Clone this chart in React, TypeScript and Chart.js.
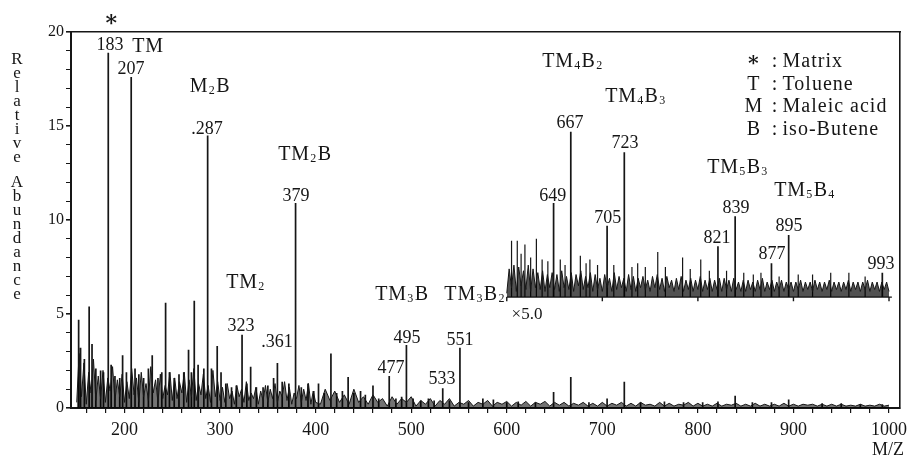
import React, { useEffect, useRef } from 'react';
import { Chart, registerables } from 'chart.js';

Chart.register(...registerables);

const FONT = '"Liberation Serif", "DejaVu Serif", serif';
const INK = '#161616';

// ---------- axis ----------
const xMin = 144;
const xMax = 1011.5;
const yMin = 0;
const yMax = 20;
const xTickLabels = [200, 300, 400, 500, 600, 700, 800, 900, 1000];
const xMinorStep = 20;
const yTickLabels = [0, 5, 10, 15, 20];
const yMinorStep = 1;

// ---------- main spectrum (m/z, relative abundance) ----------
const peakMz = [152, 154, 158, 163, 166, 170, 175, 178, 183, 186, 190, 195, 198, 202, 207, 211, 215, 220, 225, 229, 235, 239, 243, 247, 252, 257, 262, 267, 270, 273, 277, 283, 287, 291, 297, 301, 306, 312, 317, 323, 328, 332, 338, 345, 350, 356, 360, 365, 372, 379, 385, 392, 398, 403, 409, 416, 422, 428, 434, 440, 447, 452, 460, 466, 477, 484, 490, 495, 502, 510, 518, 524, 533, 540, 551, 560, 575, 586, 600, 612, 630, 649, 667, 686, 705, 723, 740, 765, 785, 805, 821, 839, 857, 877, 895, 930, 950, 970, 993];
const peakInt = [4.7, 3.2, 2.6, 5.4, 3.4, 2.1, 2.0, 1.9, 18.9, 2.3, 1.7, 1.6, 2.8, 1.9, 17.6, 2.1, 1.8, 1.6, 2.1, 2.8, 1.6, 1.9, 5.6, 1.9, 1.6, 1.8, 1.9, 3.1, 1.9, 5.7, 2.3, 2.1, 14.5, 2.1, 3.3, 1.9, 1.3, 1.1, 1.2, 3.9, 1.3, 2.2, 1.1, 1.1, 1.2, 1.6, 2.4, 1.4, 1.3, 10.9, 1.1, 1.3, 0.9, 1.3, 0.8, 2.9, 0.8, 0.9, 1.65, 0.8, 0.9, 0.7, 1.2, 0.5, 1.7, 0.5, 0.6, 3.35, 0.5, 0.4, 0.5, 0.4, 1.05, 0.4, 3.2, 0.3, 0.5, 0.45, 0.3, 0.35, 0.3, 0.85, 1.65, 0.3, 0.5, 1.4, 0.3, 0.35, 0.3, 0.3, 0.35, 0.65, 0.3, 0.3, 0.45, 0.25, 0.25, 0.2, 0.2];

// background trace, 150..400 every 2.5
const noiseLowStart = 150;
const noiseLowStep = 2.5;
const noiseLow = [
  0.3, 2.9, 0.6, 2.4, 0.2, 1.9, 0.8, 2.6, 0.4, 1.7, 0.5, 2.0, 0.3, 1.6, 0.9, 2.2, 0.4, 1.5, 0.6, 1.8, 0.3,
  1.4, 0.5, 2.1, 0.7, 1.6, 0.3, 1.9, 0.6, 1.3, 0.4, 2.2, 0.8, 1.5, 0.3, 1.8, 0.5, 1.2, 0.7, 1.9, 0.4,
  1.6, 0.5, 1.4, 0.8, 1.9, 0.3, 1.5, 0.6, 2.1, 0.4, 1.3, 0.7, 1.8, 0.5, 1.2, 0.3, 2.0, 0.6, 1.4, 0.4,
  1.1, 0.3, 1.3, 0.5, 0.9, 0.2, 1.2, 0.6, 1.0, 0.3, 1.4, 0.4, 0.8, 0.5, 1.1, 0.2, 0.9, 0.4, 1.2, 0.3,
  1.0, 0.5, 1.3, 0.3, 0.9, 0.6, 1.4, 0.4, 1.1, 0.2, 0.8, 0.5, 1.2, 0.3, 1.0, 0.4, 1.3, 0.2, 0.9, 0.3,
];
// background trace, 405..1000 every 5
const noiseHighStart = 405;
const noiseHighStep = 5;
const noiseHigh = [
  0.2, 1.0, 0.4, 0.9, 0.3, 0.7, 0.2, 1.0, 0.3, 0.6, 0.2,
  0.7, 0.3, 0.5, 0.1, 0.6, 0.2, 0.5, 0.3, 0.6, 0.1, 0.4, 0.2,
  0.5, 0.1, 0.4, 0.2, 0.5, 0.1, 0.3, 0.2, 0.4, 0.1, 0.3, 0.2,
  0.4, 0.1, 0.3, 0.2, 0.35, 0.1, 0.3, 0.15, 0.35, 0.1, 0.3, 0.2,
  0.35, 0.1, 0.3, 0.15, 0.3, 0.1, 0.25, 0.15, 0.3, 0.1, 0.25, 0.1,
  0.3, 0.1, 0.25, 0.15, 0.3, 0.1, 0.25, 0.1, 0.3, 0.15, 0.2, 0.1,
  0.3, 0.1, 0.25, 0.1, 0.2, 0.15, 0.3, 0.1, 0.25, 0.1, 0.2, 0.1,
  0.25, 0.1, 0.2, 0.15, 0.25, 0.1, 0.2, 0.1, 0.25, 0.1, 0.2, 0.1,
  0.2, 0.1, 0.25, 0.1, 0.2, 0.1, 0.2, 0.15, 0.2, 0.1, 0.2, 0.1,
  0.2, 0.1, 0.2, 0.1, 0.15, 0.1, 0.2, 0.1, 0.15, 0.1, 0.2, 0.1, 0.15,
];

// ---------- ×5.0 inset (drawn on an offset baseline) ----------
const insetBase = 5.9;
const insetStart = 600;
const insetEnd = 1003;
const insetTickMz = [600, 700, 800, 900, 1000];
const insetPeakMz = [649, 667, 705, 723, 821, 839, 877, 895, 993];
const insetPeakInt = [10.9, 14.7, 9.7, 13.6, 8.6, 10.2, 7.7, 9.2, 7.2];
const insetSpikeMz = [605, 611, 615, 619, 625, 631, 637, 643, 656, 661, 677, 683, 687, 695, 712, 731, 737, 745, 758, 766, 784, 792, 803, 812, 830, 848, 858, 866, 885, 905, 920, 939, 958, 975];
const insetSpikeInt = [8.9, 8.9, 8.2, 8.7, 8.0, 9.0, 7.9, 7.8, 7.9, 7.6, 8.1, 7.7, 7.9, 7.6, 7.6, 7.5, 7.7, 7.5, 8.3, 7.5, 8.0, 7.4, 7.9, 7.3, 7.3, 7.2, 7.1, 7.2, 7.0, 7.1, 7.1, 7.2, 7.2, 7.0];
const insetNoiseStep = 2.5;
const insetNoise = [
  0.2, 1.5, 0.5, 1.7, 0.3, 1.6, 0.6, 1.4, 0.4, 1.7, 0.3, 1.5, 0.5, 1.3, 0.4, 1.4, 0.3, 1.2, 0.5, 1.3,
  0.4, 1.2, 0.3, 1.4, 0.5, 1.1, 0.4, 1.3, 0.3, 1.2, 0.6, 1.4, 0.4, 1.1, 0.5, 1.3, 0.3, 1.2, 0.4, 1.0,
  0.3, 1.2, 0.5, 1.0, 0.3, 1.3, 0.4, 1.1, 0.5, 1.0, 0.3, 1.2, 0.4, 1.1, 0.3, 1.0, 0.5, 1.1, 0.4, 0.9,
  0.3, 1.1, 0.5, 1.2, 0.4, 1.0, 0.3, 1.1, 0.5, 0.9, 0.3, 1.0, 0.4, 1.1, 0.3, 0.9, 0.4, 1.0, 0.3, 0.9,
  0.4, 1.1, 0.3, 0.9, 0.4, 1.0, 0.3, 0.9, 0.4, 1.0, 0.3, 1.0, 0.4, 0.9, 0.3, 1.0, 0.4, 0.8, 0.3, 0.9,
  0.3, 0.9, 0.4, 0.8, 0.3, 0.9, 0.4, 1.0, 0.3, 0.8, 0.4, 0.9, 0.3, 0.8, 0.4, 0.9, 0.3, 0.8, 0.4, 0.8,
  0.3, 0.8, 0.4, 0.9, 0.3, 0.8, 0.4, 0.8, 0.3, 0.9, 0.4, 0.8, 0.3, 0.8, 0.4, 0.9, 0.3, 0.8, 0.4, 0.8,
  0.3, 0.8, 0.4, 0.9, 0.3, 0.8, 0.4, 0.8, 0.3, 0.8, 0.4, 0.9, 0.3, 0.8, 0.4, 0.8, 0.3, 0.8, 0.4, 0.8, 0.3,
];

// ---------- text annotations (placed in data coordinates: m/z, abundance) ----------
const labelTexts = ['183', '207', '.287', '379', '323', '.361', '495', '477', '533', '551', '667', '723', '649', '705', '839', '821', '895', '877', '993'];
const labelMz = [184.8, 206.8, 286.3, 379.5, 321.9, 359.6, 495.6, 478.9, 532.3, 551.1, 666.1, 723.8, 648.2, 705.8, 839.8, 819.9, 895.3, 877.5, 991.6];
const labelAt = [19.36, 18.09, 14.89, 11.33, 4.41, 3.56, 3.78, 2.18, 1.6, 3.67, 15.21, 14.15, 11.33, 10.16, 10.69, 9.1, 9.73, 8.24, 7.71];

const formulaTexts = ['TM', 'M_2B', 'TM_2B', 'TM_2', 'TM_3B', 'TM_3B_2', 'TM_4B_2', 'TM_4B_3', 'TM_5B_3', 'TM_5B_4'];
const formulaMz = [224.6, 289.5, 388.9, 327.1, 490.4, 566.8, 669.2, 735.1, 841.9, 912.0];
const formulaAt = [19.31, 17.18, 13.56, 6.76, 6.12, 6.12, 18.51, 16.65, 12.87, 11.65];

const matrixMark = '∗';
const matrixMarkMz = 185.9;
const matrixMarkAt = 20.64;
const insetNote = '×5.0';
const insetNoteMz = 621.2;
const insetNoteAt = 5.05;

const legendSymbols = ['∗', 'T', 'M', 'B'];
const legendNames = ['Matrix', 'Toluene', 'Maleic acid', 'iso-Butene'];
const legendAt = [18.51, 17.29, 16.12, 14.89];
const legendSymMz = 858.0;
const legendColonMz = 880.2;
const legendTextMz = 888.6;

const yTitle = 'Relative Abundance';
const xTitle = 'M/Z';

// ---------- helpers ----------
function sticks(mz: number[], top: number[], base: number) {
  const out: any[] = [];
  mz.forEach((m, i) => {
    out.push({ x: m, y: base }, { x: m, y: top[i] }, { x: m, y: null });
  });
  return out;
}

function drawRich(ctx: CanvasRenderingContext2D, text: string, cx: number, cy: number, size: number, align = 'center', spacing = 0) {
  const parts: { t: string; sub: boolean }[] = [];
  const re = /_(\d)/g;
  let last = 0;
  let m: RegExpExecArray | null;
  while ((m = re.exec(text))) {
    if (m.index > last) parts.push({ t: text.slice(last, m.index), sub: false });
    parts.push({ t: m[1], sub: true });
    last = m.index + 2;
  }
  if (last < text.length) parts.push({ t: text.slice(last), sub: false });
  const subSize = Math.round(size * 0.58);
  (ctx as any).letterSpacing = spacing + 'px';
  let w = 0;
  const widths = parts.map((p) => {
    ctx.font = `${p.sub ? subSize : size}px ${FONT}`;
    const ww = ctx.measureText(p.t).width + (p.sub ? 1 : 0);
    w += ww;
    return ww;
  });
  let x = align === 'center' ? cx - w / 2 : align === 'left' ? cx : cx - w;
  const base = cy + size * 0.33;
  ctx.textAlign = 'left';
  ctx.textBaseline = 'alphabetic';
  parts.forEach((p, i) => {
    ctx.font = `${p.sub ? subSize : size}px ${FONT}`;
    ctx.fillText(p.t, p.sub ? x + 0.5 : x, p.sub ? base + size * 0.1 : base);
    x += widths[i];
  });
  (ctx as any).letterSpacing = '0px';
}

const textPlugin = {
  id: 'spectrumText',
  afterDraw(chart: any) {
    const { ctx } = chart;
    const xs = chart.scales.x;
    const ys = chart.scales.y;
    const px = (v: number) => xs.getPixelForValue(v);
    const py = (v: number) => ys.getPixelForValue(v);
    ctx.save();
    ctx.fillStyle = INK;
    labelTexts.forEach((t, i) => drawRich(ctx, t, px(labelMz[i]), py(labelAt[i]), 18));
    formulaTexts.forEach((t, i) => drawRich(ctx, t, px(formulaMz[i]), py(formulaAt[i]), 20, 'center', 0.8));
    ctx.font = `bold 22px ${FONT}`;
    ctx.textAlign = 'center';
    ctx.textBaseline = 'middle';
    ctx.fillText(matrixMark, px(matrixMarkMz), py(matrixMarkAt));
    drawRich(ctx, insetNote, px(insetNoteMz), py(insetNoteAt), 17);
    legendSymbols.forEach((s, i) => {
      const yy = py(legendAt[i]);
      if (s === '∗') {
        ctx.font = `bold 20px ${FONT}`;
        ctx.textAlign = 'center';
        ctx.textBaseline = 'middle';
        ctx.fillText(s, px(legendSymMz), yy + 1);
      } else {
        drawRich(ctx, s, px(legendSymMz), yy, 20);
      }
      drawRich(ctx, ':', px(legendColonMz), yy, 20);
      drawRich(ctx, legendNames[i], px(legendTextMz), yy, 20, 'left', 1);
    });
    // stacked y title
    ctx.font = `17px ${FONT}`;
    ctx.textAlign = 'center';
    ctx.textBaseline = 'middle';
    let yy = 60;
    for (const ch of yTitle) {
      if (ch === ' ') {
        yy += 11;
        continue;
      }
      ctx.fillText(ch, 17, yy);
      yy += 14;
    }
    // x title
    drawRich(ctx, xTitle, xs.right - 12, ys.bottom + 41, 18);
    ctx.restore();
  },
};

function buildConfig(): any {
  const noisePts: any[] = [];
  noiseLow.forEach((v, i) => noisePts.push({ x: noiseLowStart + i * noiseLowStep, y: v }));
  noiseHigh.forEach((v, i) => noisePts.push({ x: noiseHighStart + i * noiseHighStep, y: v }));
  const insetPts = insetNoise.map((v, i) => ({ x: insetStart + i * insetNoiseStep, y: insetBase + v }));
  const insetAxis: any[] = [{ x: insetStart, y: insetBase }, { x: insetEnd, y: insetBase }, { x: insetEnd, y: null }];
  insetTickMz.forEach((m) => insetAxis.push({ x: m, y: insetBase }, { x: m, y: insetBase - 0.22 }, { x: m, y: null }));

  const lineDs = (data: any[], width: number, extra: any = {}) => ({
    data,
    borderColor: INK,
    borderWidth: width,
    pointRadius: 0,
    tension: 0,
    spanGaps: false,
    fill: false,
    ...extra,
  });

  const xMinorTicks: number[] = [];
  for (let v = 160; v <= 1000; v += xMinorStep) xMinorTicks.push(v);
  const yMinorTicks: number[] = [];
  for (let v = yMin; v <= yMax; v += yMinorStep) yMinorTicks.push(v);

  const noPad = (s: any) => {
    s.paddingLeft = 0;
    s.paddingRight = 0;
    s.paddingTop = 0;
    s.paddingBottom = 0;
  };

  const edge = (pos: string) => ({
    type: 'linear',
    position: pos,
    min: pos === 'top' ? xMin : yMin,
    max: pos === 'top' ? xMax : yMax,
    ticks: { display: false },
    grid: { drawOnChartArea: false, drawTicks: false },
    border: { display: true, color: INK, width: 1.6 },
    afterFit(s: any) {
      if (pos === 'top') s.height = 0;
      else s.width = 0;
      noPad(s);
    },
  });

  return {
    type: 'line',
    data: {
      datasets: [
        lineDs(noisePts, 1, { fill: 'origin', backgroundColor: 'rgba(0,0,0,0.55)' }),
        lineDs(sticks(peakMz, peakInt, 0), 1.7),
        lineDs(insetPts, 1, { fill: { value: insetBase }, backgroundColor: 'rgba(0,0,0,0.68)' }),
        lineDs(sticks(insetSpikeMz, insetSpikeInt, insetBase), 1.2),
        lineDs(sticks(insetPeakMz, insetPeakInt, insetBase), 1.7),
        lineDs(insetAxis, 1.4),
      ],
    },
    options: {
      responsive: false,
      animation: false,
      devicePixelRatio: 1,
      events: [],
      layout: { padding: { top: 32, right: 10, left: 0, bottom: 0 } },
      plugins: { legend: { display: false }, tooltip: { enabled: false }, title: { display: false } },
      scales: {
        x: {
          type: 'linear',
          position: 'bottom',
          min: xMin,
          max: xMax,
          afterBuildTicks(s: any) {
            s.ticks = xMinorTicks.map((v) => ({ value: v }));
          },
          afterFit(s: any) {
            s.height = 49;
            noPad(s);
          },
          ticks: {
            autoSkip: false,
            maxRotation: 0,
            padding: 6,
            color: INK,
            font: { family: FONT, size: 18 },
            callback: (v: number) => (xTickLabels.includes(v) ? String(v) : ''),
          },
          grid: { drawOnChartArea: false, drawTicks: true, tickLength: 5, color: INK, lineWidth: 1.2 },
          border: { display: true, color: INK, width: 2 },
        },
        y: {
          type: 'linear',
          position: 'left',
          min: yMin,
          max: yMax,
          afterBuildTicks(s: any) {
            s.ticks = yMinorTicks.map((v) => ({ value: v }));
          },
          afterFit(s: any) {
            s.width = 71;
            noPad(s);
          },
          ticks: {
            autoSkip: false,
            padding: 2,
            color: INK,
            font: { family: FONT, size: 16 },
            callback: (v: number) => (yTickLabels.includes(v) ? String(v) : ''),
          },
          grid: {
            drawOnChartArea: false,
            drawTicks: true,
            tickLength: 5,
            color: INK,
            lineWidth: (c: any) => (c.tick && yTickLabels.includes(c.tick.value) ? 1.6 : 1),
          },
          border: { display: true, color: INK, width: 2 },
        },
        xTop: edge('top'),
        yRight: edge('right'),
      },
    },
    plugins: [textPlugin],
  };
}

export default function App() {
  const ref = useRef<HTMLCanvasElement | null>(null);
  useEffect(() => {
    if (!ref.current) return;
    const chart = new Chart(ref.current, buildConfig());
    return () => chart.destroy();
  }, []);
  return (
    <div style={{ position: 'fixed', left: 0, top: 0, width: 910, height: 457, background: '#fff' }}>
      <canvas ref={ref} width={910} height={457} style={{ display: 'block', width: 910, height: 457 }} />
    </div>
  );
}
